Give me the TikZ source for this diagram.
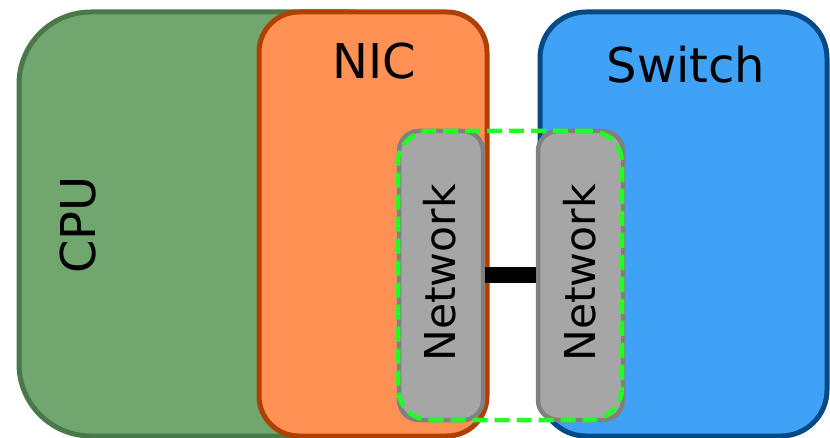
\documentclass[tikz,border=0pt]{standalone}
\usepackage{fontspec}
\setmainfont{DejaVu Sans}
\definecolor{cpufill}{HTML}{6FA76F}
\definecolor{cpuline}{HTML}{4A7849}
\definecolor{nicfill}{HTML}{FF9155}
\definecolor{nicline}{HTML}{B04000}
\definecolor{swfill}{HTML}{3FA2F7}
\definecolor{swline}{HTML}{054A85}
\definecolor{netfill}{HTML}{A6A6A6}
\definecolor{netline}{HTML}{808080}
\definecolor{linkline}{HTML}{22FF22}
\tikzset{
  unit/.style={draw, rectangle, line width=5pt, inner sep=0pt},
  netbox/.style={unit, fill=netfill, draw=netline, line width=4.5pt,
    rounded corners=20pt, minimum height=289pt},
  bigtext/.style={font=\fontsize{48}{58}\selectfont, inner sep=0pt},
  nettext/.style={font=\fontsize{42.5}{50}\selectfont, inner sep=0pt, rotate=90},
}
\begin{document}
\begin{tikzpicture}[x=1pt,y=-1pt]
\useasboundingbox (0,0) rectangle (830,438);
\clip (0,0) rectangle (830,438);
% processor, adapter and switch
\node[unit, fill=cpufill, draw=cpuline, rounded corners=72pt,
  minimum width=401pt, minimum height=424pt] (cpu) at (219.5,224) {};
\node[unit, fill=nicfill, draw=nicline, rounded corners=40pt,
  minimum width=228pt, minimum height=424pt] (nic) at (373,224) {};
\node[unit, fill=swfill, draw=swline, rounded corners=46pt,
  minimum width=287pt, minimum height=424pt] (switch) at (683.5,224) {};
\node[bigtext, rotate=90] (cpulabel) at (78,225) {CPU};
\node[bigtext] (niclabel) at (374,61) {NIC};
\node[bigtext] (swlabel) at (686,65) {Switch};
% network ports
\node[netbox, minimum width=84pt] (net1) at (441,275.5) {};
\node[netbox, minimum width=85pt] (net2) at (580.5,275.5) {};
\node[nettext] (net1label) at (440,273) {Network};
\node[nettext] (net2label) at (580,273) {Network};
% cable between the ports
\draw[line width=16pt, black] (net1.east |- 0,275) -- (net2.west |- 0,275);
% link boundary
\node[draw=linkline, line width=4.5pt, dash pattern=on 15pt off 7pt,
  rounded corners=32pt, minimum width=224pt, minimum height=289pt,
  inner sep=0pt] (link) at (510,275.5) {};
\end{tikzpicture}
\end{document}
